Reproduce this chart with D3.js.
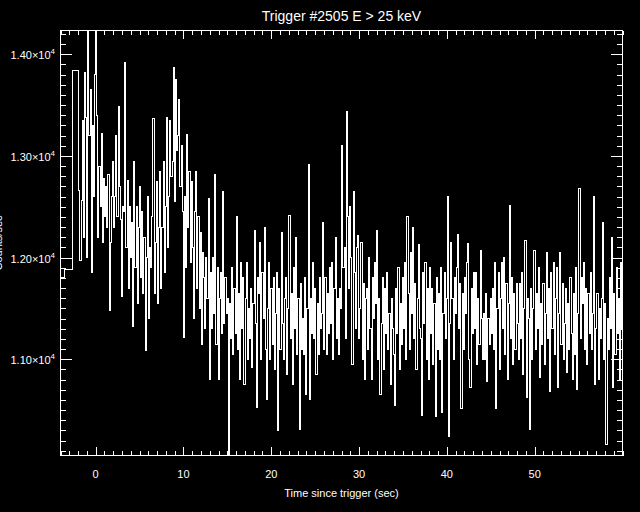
<!DOCTYPE html>
<html><head><meta charset="utf-8">
<script src="https://cdn.jsdelivr.net/npm/d3@7"></script>
<style>
html,body{margin:0;padding:0;background:#000;}
svg{display:block;background:#000;}
text{font-family:"Liberation Sans",Arial,sans-serif;fill:#fff;}
</style></head><body>
<svg id="chart" width="640" height="512"></svg>
<script>
const title = "Trigger #2505 E > 25 keV";
const xLabel = "Time since trigger (sec)";
const yLabel = "Counts/sec";
const xTicks = [0, 10, 20, 30, 40, 50];
const xTickLabels = ["0", "10", "20", "30", "40", "50"];
const yTicks = [11000, 12000, 13000, 14000];
const yTickMantissas = ["1.10", "1.20", "1.30", "1.40"];
const yTickExponent = "4";
const xDomain = [-4, 60];
const yDomain = [10054, 14234];

// pre-trigger (coarse) bins
const preBinStarts = [-4.0, -3.6, -2.6];
const preBinEnds = [-3.6, -2.6, -1.92];
const preValues = [11800, 11885, 13840];

// fine-resolution bins
const fineStart = -1.92;
const fineWidth = 0.128;
const fineValues = [
12660,11970,12560,13350,12200,13820,13380,12000,
14450,13200,13650,11850,13300,12600,13800,14500,
13400,12200,12900,12500,13220,12150,12780,12400,
12700,12300,12820,11480,12150,12600,12950,12300,
12600,13200,12400,13490,12700,12380,11620,12500,
12450,13920,12100,12760,11700,12500,12000,12350,
11320,12950,11900,12500,11550,12300,12700,11800,
12450,11650,12200,11090,12000,12600,11400,12100,
11900,12400,13370,11650,12150,12750,11550,12300,
12850,11700,12300,12950,11850,12500,13380,12100,
12600,13350,12800,12950,13870,12550,13750,13050,
13200,13560,12700,13100,12450,11210,12600,11900,
13210,12300,12850,11950,12750,12100,11400,12450,
12850,11700,12400,11500,12250,11150,12050,11800,
11300,12000,11600,12580,10800,11850,11300,12000,
11450,12820,11150,11900,10800,11600,11850,11250,
12650,11350,11800,11450,11600,9800,11550,11200,
11900,11050,11700,11250,12400,11100,11650,10800,
11950,11300,11800,10750,11600,11950,11000,11500,
11200,11700,10920,11550,12270,11350,10530,11800,
11650,12150,11000,11850,11400,12300,11100,10600,
11500,11950,11000,11700,11150,11800,10900,11450,
11850,10300,11700,11100,12250,11350,11000,11600,
11800,10850,11500,12410,11200,11650,10750,11900,
11300,12200,11050,11600,10310,11750,11100,11400,
11050,11800,10650,11500,12920,10600,11600,11250,
11950,11200,11700,10850,11550,11050,11800,11300,
11450,12350,11100,11800,11050,11650,11250,11900,
11350,11950,11000,11700,12200,11200,11600,11050,
11700,11500,13100,11900,12100,11200,13440,12400,
11700,12500,12000,10950,12650,11850,11300,12100,
12220,11200,11500,12150,11000,11750,10800,11600,
11700,11100,12000,11300,10800,11800,11400,11950,
11550,12270,11000,11600,10650,11350,11800,10900,
11700,11250,11850,11100,11450,10750,11600,11300,
11050,10550,11700,11250,11900,10900,11550,11150,
11800,11300,11950,11000,12400,11650,11100,12050,
11450,12300,11200,11750,10900,11600,12130,11300,
11200,10450,11850,11350,11950,11000,11700,10800,
11900,11250,11700,10950,11550,10440,11800,11100,
11650,11000,11900,10480,11450,11850,11200,11600,
12600,10240,11350,12150,11600,11000,11800,11450,
11900,12230,11300,11750,10520,11650,11100,11800,
11450,11950,12140,11000,10720,11700,11250,11850,
11300,11850,10950,11600,11150,12070,11400,11000,
11450,11000,11650,10780,11400,11150,11600,11250,
11700,11100,11950,10520,11500,11850,10900,11600,
11950,11300,12000,11050,11750,10800,11550,12510,
11200,11800,10950,11650,11100,11750,11350,11000,
11750,11200,11850,10850,11500,12170,10620,11600,
11400,10310,11700,11000,11500,12070,11100,11650,
11300,11900,10820,11550,11150,11750,10950,11450,
12050,11200,11700,10680,11850,11300,11950,11050,
11600,11900,10720,11450,12050,11150,11750,11000,
11350,11700,10870,11550,11100,11800,11250,10800,
11650,11050,11900,10700,11450,12680,11200,11800,
11550,11950,11100,11700,10950,11650,11250,11850,
11100,11450,12600,10750,11300,11650,10800,11500,
11200,11600,12350,11000,11550,10160,11400,11100,
11800,11300,12200,10720,11650,11050,11900,11250,
11600,10800,11950,11300
];

const L = 60.5, R = 622.5, T = 30.5, B = 455.5;
const svg = d3.select("#chart");
const x = d3.scaleLinear().domain(xDomain).range([L, R]);
const y = d3.scaleLinear().domain(yDomain).range([B, T]);

svg.append("defs").append("clipPath").attr("id", "clip")
  .append("rect").attr("x", L).attr("y", T).attr("width", R - L).attr("height", B - T);

// build step points
const pts = [];
preValues.forEach((v, i) => { pts.push([preBinStarts[i], v]); pts.push([preBinEnds[i], v]); });
fineValues.forEach((v, i) => {
  const s = fineStart + i * fineWidth;
  pts.push([s, v]); pts.push([s + fineWidth, v]);
});
const line = d3.line().x(d => x(d[0])).y(d => y(d[1]));
svg.append("path").attr("d", line(pts)).attr("clip-path", "url(#clip)")
  .attr("fill", "none").attr("stroke", "#fff").attr("stroke-width", 1)
  .attr("shape-rendering", "crispEdges");

// frame
svg.append("rect").attr("x", L).attr("y", T).attr("width", R - L).attr("height", B - T)
  .attr("fill", "none").attr("stroke", "#fff").attr("shape-rendering", "crispEdges");

const xMinor = d3.range(-4, 61, 1).filter(v => xTicks.indexOf(v) < 0);
const yMinor = d3.range(10100, 14300, 100).filter(v => yTicks.indexOf(v) < 0);
const xLen = 8.5, yLen = 11.2;

function styleAxis(g) {
  g.select(".domain").remove();
  g.selectAll("line").attr("stroke", "#fff").attr("shape-rendering", "crispEdges");
  g.selectAll("text").remove();
}
// bottom
svg.append("g").attr("transform", `translate(0,${B})`)
  .call(d3.axisBottom(x).tickValues(xTicks).tickSizeInner(-xLen).tickSizeOuter(0)).call(styleAxis);
svg.append("g").attr("transform", `translate(0,${B})`)
  .call(d3.axisBottom(x).tickValues(xMinor).tickSizeInner(-xLen / 2).tickSizeOuter(0)).call(styleAxis);
// top
svg.append("g").attr("transform", `translate(0,${T})`)
  .call(d3.axisTop(x).tickValues(xTicks).tickSizeInner(-xLen).tickSizeOuter(0)).call(styleAxis);
svg.append("g").attr("transform", `translate(0,${T})`)
  .call(d3.axisTop(x).tickValues(xMinor).tickSizeInner(-xLen / 2).tickSizeOuter(0)).call(styleAxis);
// left
svg.append("g").attr("transform", `translate(${L},0)`)
  .call(d3.axisLeft(y).tickValues(yTicks).tickSizeInner(-yLen).tickSizeOuter(0)).call(styleAxis);
svg.append("g").attr("transform", `translate(${L},0)`)
  .call(d3.axisLeft(y).tickValues(yMinor).tickSizeInner(-yLen / 2).tickSizeOuter(0)).call(styleAxis);
// right
svg.append("g").attr("transform", `translate(${R},0)`)
  .call(d3.axisRight(y).tickValues(yTicks).tickSizeInner(-yLen).tickSizeOuter(0)).call(styleAxis);
svg.append("g").attr("transform", `translate(${R},0)`)
  .call(d3.axisRight(y).tickValues(yMinor).tickSizeInner(-yLen / 2).tickSizeOuter(0)).call(styleAxis);

// x tick labels
svg.append("g").selectAll("text").data(xTicks).join("text")
  .attr("x", d => x(d)).attr("y", 478).attr("text-anchor", "middle")
  .attr("font-size", 11).text((d, i) => xTickLabels[i]);

// y tick labels
const yl = svg.append("g").selectAll("text").data(yTicks).join("text")
  .attr("x", 55).attr("y", d => y(d) + 5).attr("text-anchor", "end").attr("font-size", 11);
yl.append("tspan").text((d, i) => yTickMantissas[i] + "\u00d710");
yl.append("tspan").attr("dy", -5).attr("font-size", 8).text(yTickExponent);

// titles
svg.append("text").attr("x", (L + R) / 2).attr("y", 21).attr("text-anchor", "middle")
  .attr("font-size", 14).text(title);
svg.append("text").attr("x", (L + R) / 2).attr("y", 497).attr("text-anchor", "middle")
  .attr("font-size", 11).text(xLabel);
svg.append("text").attr("transform", `translate(2,${(T + B) / 2}) rotate(-90)`)
  .attr("text-anchor", "middle").attr("font-size", 11).text(yLabel);
</script>
</body></html>
